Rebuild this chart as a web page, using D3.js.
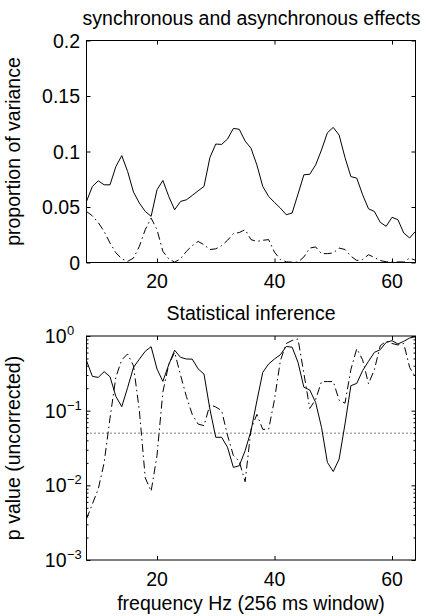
<!DOCTYPE html>
<html><head><meta charset="utf-8">
<script src="https://cdn.jsdelivr.net/npm/d3@7/dist/d3.min.js"></script>
<style>body{margin:0;background:#fff}svg{display:block}</style>
</head><body>
<svg id="c" width="430" height="616"></svg>
<script>
// ---- data ----
const freqs = [8,9,10,11,12,13,14,15,16,17,18,19,20,21,22,23,24,25,26,27,28,29,30,31,32,33,34,35,36,37,38,39,40,41,42,43,44,45,46,47,48,49,50,51,52,53,54,55,56,57,58,59,60,61,62,63,64];
const syncVar = [0.055,0.0685,0.0736,0.070,0.070,0.0864,0.0963,0.082,0.0634,0.0535,0.046,0.0416,0.0655,0.0739,0.0595,0.0475,0.055,0.0565,0.0604,0.0646,0.0685,0.0945,0.1067,0.1064,0.1112,0.1208,0.120,0.1094,0.1029,0.0879,0.0685,0.0595,0.0541,0.049,0.043,0.0446,0.0616,0.079,0.0795,0.0879,0.1014,0.1169,0.1217,0.1148,0.0945,0.0774,0.076,0.061,0.0484,0.046,0.0362,0.0326,0.0407,0.0386,0.0266,0.0221,0.0281];
const asyncVar = [0.046,0.042,0.036,0.028,0.0176,0.0087,0.0033,0.001,0.004,0.0146,0.0296,0.040,0.0296,0.010,0.0033,0.0003,0.0033,0.010,0.0152,0.019,0.016,0.0117,0.0123,0.0152,0.020,0.026,0.027,0.0296,0.0206,0.019,0.020,0.0206,0.0093,0.0027,0.0006,0.0003,0.0003,0.005,0.013,0.014,0.008,0.008,0.0086,0.013,0.0117,0.0057,0.0018,0.0027,0.007,0.0045,0.0018,0.0006,0.0005,0.0005,0.0005,0.004,0.002];
const syncP = [0.468,0.288,0.279,0.333,0.285,0.155,0.113,0.204,0.380,0.490,0.624,0.719,0.361,0.247,0.413,0.646,0.518,0.492,0.490,0.363,0.309,0.105,0.0440,0.0440,0.0324,0.0174,0.0183,0.0291,0.0537,0.135,0.326,0.422,0.492,0.562,0.724,0.708,0.444,0.206,0.189,0.129,0.0598,0.0203,0.0153,0.0225,0.0664,0.216,0.232,0.344,0.458,0.604,0.656,0.822,0.866,0.782,0.849,0.940,0.979];
const asyncP = [0.00355,0.00562,0.00891,0.0200,0.0794,0.282,0.479,0.575,0.398,0.100,0.0126,0.00832,0.0251,0.178,0.417,0.603,0.302,0.155,0.0891,0.0661,0.0631,0.120,0.112,0.100,0.0468,0.0251,0.0209,0.0112,0.0562,0.0891,0.0562,0.0562,0.141,0.468,0.794,0.871,0.912,0.316,0.107,0.141,0.245,0.245,0.245,0.138,0.126,0.355,0.676,0.479,0.229,0.355,0.741,0.851,0.794,0.759,0.794,0.380,0.282];
const threshold = 0.05;
const xTicks = [20,40,60];
const varTicks = [0,0.05,0.1,0.15,0.2];
const varTickLabels = ["0","0.05","0.1","0.15","0.2"];
const pTicks = [0.001,0.01,0.1,1];
const pTickExps = ["\u22123","\u22122","\u22121","0"];
const titles = ["synchronous and asynchronous effects","Statistical inference"];
const yLabels = ["proportion of variance","p value (uncorrected)"];
const xLabel = "frequency Hz (256 ms window)";

// ---- layout ----
const FONT = "'Liberation Sans', Arial, Helvetica, sans-serif";
const FS = 19.5;
const L = 86.5, R = 415.5;
const top1 = 40.5, bot1 = 262.5;
const top2 = 336, bot2 = 560;
const svg = d3.select("#c");
svg.append("rect").attr("width",430).attr("height",616).attr("fill","#fff");

const x = d3.scaleLinear().domain([8,64]).range([L,R]);
const y1 = d3.scaleLinear().domain([0,0.2]).range([bot1,top1]);
const y2 = d3.scaleLog().domain([0.001,1]).range([bot2,top2]);

function style(g){
  g.select(".domain").remove();
  g.selectAll("line").attr("stroke","#000").attr("stroke-width",1);
  g.selectAll("text").remove();
}
function frame(yScale, t, b, yTickVals, minor){
  svg.append("g").attr("transform",`translate(0,${b})`).call(d3.axisBottom(x).tickValues(xTicks).tickSize(-4).tickFormat("")).call(style);
  svg.append("g").attr("transform",`translate(0,${t})`).call(d3.axisTop(x).tickValues(xTicks).tickSize(-4).tickFormat("")).call(style);
  svg.append("g").attr("transform",`translate(${L},0)`).call(d3.axisLeft(yScale).tickValues(yTickVals).tickSize(-4).tickFormat("")).call(style);
  svg.append("g").attr("transform",`translate(${R},0)`).call(d3.axisRight(yScale).tickValues(yTickVals).tickSize(-4).tickFormat("")).call(style);
  if(minor){
    svg.append("g").attr("transform",`translate(${L},0)`).call(d3.axisLeft(yScale).tickValues(minor).tickSize(-2).tickFormat("")).call(style);
    svg.append("g").attr("transform",`translate(${R},0)`).call(d3.axisRight(yScale).tickValues(minor).tickSize(-2).tickFormat("")).call(style);
  }
  svg.append("rect").attr("x",L).attr("y",t).attr("width",R-L).attr("height",b-t)
    .attr("fill","none").attr("stroke","#000").attr("stroke-width",1);
  svg.selectAll(null).data(xTicks).enter().append("text")
    .attr("x",d=>x(d)).attr("y",b+25.5).attr("text-anchor","middle")
    .attr("font-family",FONT).attr("font-size",FS).text(d=>d);
}

// ---- top panel ----
frame(y1, top1, bot1, varTicks, null);
svg.selectAll(null).data(varTicks).enter().append("text")
  .attr("x",80).attr("y",d=>y1(d)+7).attr("text-anchor","end")
  .attr("font-family",FONT).attr("font-size",FS).text((d,i)=>varTickLabels[i]);

const line1 = d3.line().x((d,i)=>x(freqs[i])).y(d=>y1(d));
svg.append("path").datum(syncVar).attr("d",line1).attr("fill","none").attr("stroke","#000").attr("stroke-width",1);
svg.append("path").datum(asyncVar).attr("d",line1).attr("fill","none").attr("stroke","#000").attr("stroke-width",1)
  .attr("stroke-dasharray","8,3.5,1.5,3.5");

// ---- bottom panel ----
const minor = [];
[0.001,0.01,0.1].forEach(dec=>{ for(let k=2;k<=9;k++) minor.push(k*dec); });
frame(y2, top2, bot2, pTicks, minor);
pTicks.forEach((v,i)=>{
  svg.append("text").attr("font-family",FONT).attr("font-size",FS)
    .attr("x",66.5).attr("y",y2(v)+7).attr("text-anchor","end").text("10");
  svg.append("text").attr("font-family",FONT).attr("font-size",13)
    .attr("x",67).attr("y",y2(v)-1).text(pTickExps[i]);
});
svg.append("line").attr("x1",L).attr("x2",R).attr("y1",y2(threshold)).attr("y2",y2(threshold))
  .attr("stroke","#000").attr("stroke-width",1).attr("stroke-dasharray","1,3");
const line2 = d3.line().x((d,i)=>x(freqs[i])).y(d=>y2(d));
svg.append("path").datum(syncP).attr("d",line2).attr("fill","none").attr("stroke","#000").attr("stroke-width",1);
svg.append("path").datum(asyncP).attr("d",line2).attr("fill","none").attr("stroke","#000").attr("stroke-width",1)
  .attr("stroke-dasharray","8,3.5,1.5,3.5");

// ---- titles and labels ----
svg.append("text").attr("x",251.5).attr("y",25).attr("text-anchor","middle")
  .attr("font-family",FONT).attr("font-size",FS).text(titles[0]);
svg.append("text").attr("x",251).attr("y",320).attr("text-anchor","middle")
  .attr("font-family",FONT).attr("font-size",FS).text(titles[1]);
svg.append("text").attr("x",251).attr("y",610).attr("text-anchor","middle")
  .attr("font-family",FONT).attr("font-size",FS).text(xLabel);
svg.append("text").attr("transform",`translate(20,${(top1+bot1)/2}) rotate(-90)`).attr("text-anchor","middle")
  .attr("font-family",FONT).attr("font-size",FS).text(yLabels[0]);
svg.append("text").attr("transform",`translate(20,${(top2+bot2)/2}) rotate(-90)`).attr("text-anchor","middle")
  .attr("font-family",FONT).attr("font-size",FS).text(yLabels[1]);
</script>
</body></html>
